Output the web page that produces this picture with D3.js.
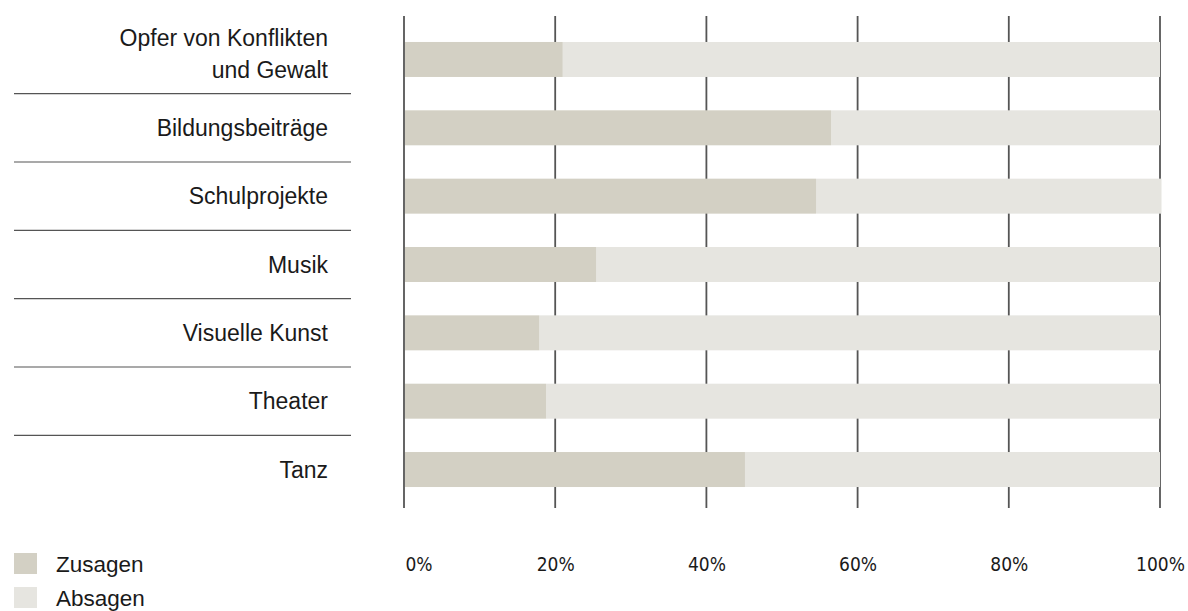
<!DOCTYPE html>
<html>
<head>
<meta charset="utf-8">
<script src="https://cdn.jsdelivr.net/npm/d3@7"></script>
<style>
  html, body { margin: 0; padding: 0; background: #fff; }
  svg { display: block; }
  .lbl { font-family: "Liberation Sans", Arial, sans-serif; font-size: 23px; fill: #1a1a1a; }
  .leg { font-family: "Liberation Sans", Arial, sans-serif; font-size: 22.5px; fill: #1a1a1a; }
  .tick text { font-family: "Liberation Sans Narrow", "DejaVu Sans Condensed", sans-serif; font-size: 19px; fill: #1a1a1a; }
</style>
</head>
<body>
<script>
const categories = [
  ["Opfer von Konflikten", "und Gewalt"],
  ["Bildungsbeiträge"],
  ["Schulprojekte"],
  ["Musik"],
  ["Visuelle Kunst"],
  ["Theater"],
  ["Tanz"]
];
const zusagen = [21.0, 56.5, 54.5, 25.4, 17.9, 18.8, 45.1];
const absagen = [79.0, 43.5, 45.7, 74.6, 82.1, 81.2, 54.9];
const tickValues = [0, 20, 40, 60, 80, 100];
const tickLabels = ["0%", "20%", "40%", "60%", "80%", "100%"];
const seriesNames = ["Zusagen", "Absagen"];
const colors = ["#d3d0c4", "#e6e5e0"];

const W = 1188, H = 611;
const svg = d3.select("body").append("svg").attr("width", W).attr("height", H);

const keys = categories.map(c => c.join(" "));
const x = d3.scaleLinear().domain([0, 100]).range([404, 1160]);
const y = d3.scaleBand().domain(keys).range([25.3, 503.7]).paddingInner(0.488).paddingOuter(0.244);

// gridlines
svg.append("g").selectAll("line").data(tickValues).join("line")
  .attr("x1", d => x(d)).attr("x2", d => x(d))
  .attr("y1", 16).attr("y2", 508)
  .attr("stroke", "#555").attr("stroke-width", 1.8);

// bars
const rows = keys.map((k, i) => ({ key: k, z: zusagen[i], a: absagen[i] }));
const g = svg.append("g");
g.selectAll("rect.abs").data(rows).join("rect").attr("class", "abs")
  .attr("x", d => x(d.z)).attr("width", d => x(d.z + d.a) - x(d.z))
  .attr("y", d => y(d.key)).attr("height", y.bandwidth())
  .attr("fill", colors[1]);
g.selectAll("rect.zus").data(rows).join("rect").attr("class", "zus")
  .attr("x", x(0) + 1).attr("width", d => x(d.z) - x(0) - 1)
  .attr("y", d => y(d.key)).attr("height", y.bandwidth())
  .attr("fill", colors[0]);

// separators
const step = y.step();
svg.append("g").selectAll("line").data(keys.slice(0, -1)).join("line")
  .attr("x1", 14).attr("x2", 351)
  .attr("y1", d => y(d) + y.bandwidth() + (step - y.bandwidth()) / 2)
  .attr("y2", d => y(d) + y.bandwidth() + (step - y.bandwidth()) / 2)
  .attr("stroke", "#555").attr("stroke-width", 1.2);

// category labels
const lineH = 32;
categories.forEach((lines, i) => {
  const cy = y(keys[i]) + y.bandwidth() / 2;
  const off = lines.length > 1 ? -5.5 : 0;
  const t = svg.append("text").attr("class", "lbl").attr("text-anchor", "end");
  lines.forEach((ln, j) => {
    t.append("tspan").attr("x", 328)
      .attr("y", cy + off + (j - (lines.length - 1) / 2) * lineH + 8)
      .text(ln);
  });
});

// x axis
const axis = d3.axisBottom(x).tickValues(tickValues).tickSize(0)
  .tickFormat((d, i) => tickLabels[i]);
const ax = svg.append("g").attr("transform", "translate(0,555)").call(axis);
ax.select(".domain").remove();
ax.selectAll(".tick text").attr("dy", 0).attr("y", 16);
ax.selectAll(".tick").filter(d => d === 0).select("text").attr("text-anchor", "start").attr("x", 1);

// legend
const leg = svg.append("g");
seriesNames.forEach((n, i) => {
  leg.append("rect").attr("x", 14).attr("y", 553 + i * 34).attr("width", 23).attr("height", 21).attr("fill", colors[i]);
  leg.append("text").attr("class", "leg").attr("x", 56).attr("y", 572 + i * 34).text(n);
});
</script>
</body>
</html>
